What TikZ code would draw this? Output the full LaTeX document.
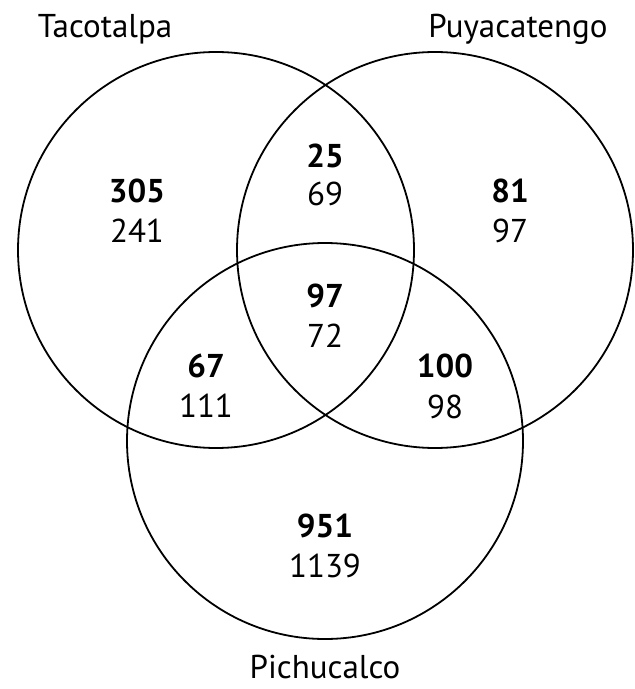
\documentclass[tikz,border=0pt]{standalone}
\usepackage{fontspec}
\setmainfont{PT Sans}
\usepackage{tikz}
\usetikzlibrary{positioning}

\begin{document}
\begin{tikzpicture}[x=0.5pt,y=-0.5pt,
  venn/.style={circle,draw,line width=0.9pt,minimum size=198pt,inner sep=0pt},
  setname/.style={anchor=base,inner sep=0pt,font=\fontsize{16.5}{19}\selectfont},
  cnt/.style={inner sep=0pt,font=\fontsize{16.5}{19}\selectfont},
  cntb/.style={inner sep=0pt,font=\fontsize{16.5}{19}\selectfont\bfseries}]
\useasboundingbox (0,0) rectangle (635,689);
% the three sets
\node[venn] (taco) at (216,250) {};
\node[venn] (puya) at (435,250) {};
\node[venn] (pich) at (325,441) {};
% set names
\node[setname] (taconame) at (105,38) {Tacotalpa};
\node[setname] (puyaname) at (518,38) {Puyacatengo};
\node[setname] (pichname) at (325,678) {Pichucalco};
% counts, bold on top
\node[cntb] (tacoa) at (137,191) {305};
\node[cnt]  (tacob) at (137,231) {241};
\node[cntb] (puyaa) at (510,191) {81};
\node[cnt]  (puyab) at (510,231) {97};
\node[cntb] (tpa) at (325,156) {25};
\node[cnt]  (tpb) at (325,194) {69};
\node[cntb] (alla) at (325,296) {97};
\node[cnt]  (allb) at (325,336) {72};
\node[cntb] (tca) at (206,366) {67};
\node[cnt]  (tcb) at (206,406) {111};
\node[cntb] (pca) at (445,366) {100};
\node[cnt]  (pcb) at (445,407) {98};
\node[cntb] (picha) at (325,526) {951};
\node[cnt]  (pichb) at (325,566) {1139};
\end{tikzpicture}
\end{document}
